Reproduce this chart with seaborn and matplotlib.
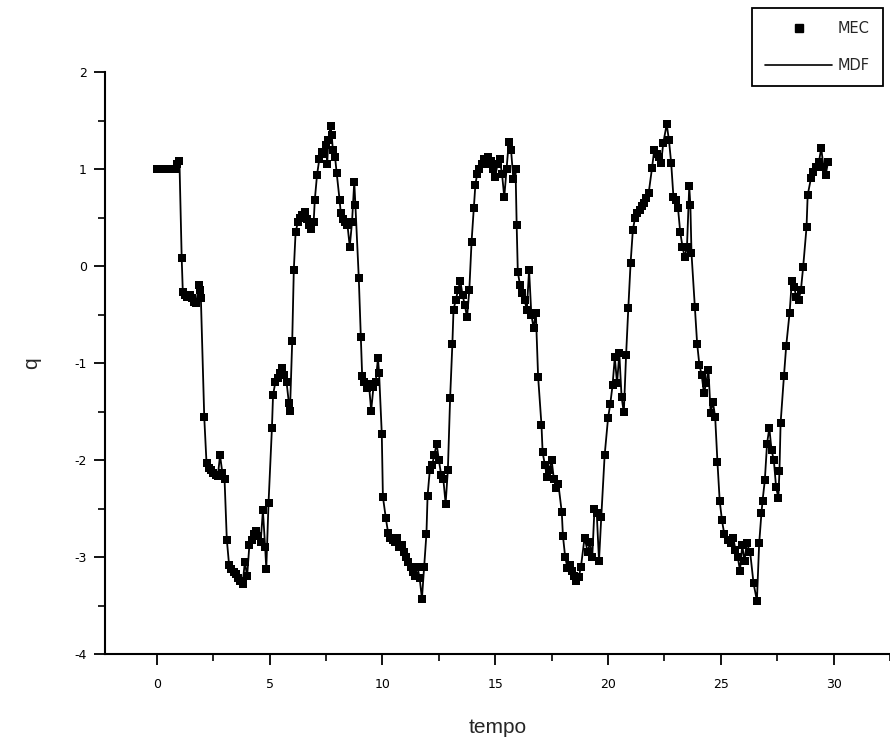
import matplotlib
matplotlib.use("Agg")
import matplotlib.pyplot as plt
from matplotlib.lines import Line2D
from matplotlib.ticker import MultipleLocator
import seaborn as sns
import pandas as pd

tempo = [0.0, 0.1, 0.2, 0.3, 0.4, 0.5, 0.6, 0.7, 0.8, 0.9, 1.0,
         1.1, 1.15, 1.25, 1.35, 1.45, 1.55, 1.65, 1.75, 1.85, 1.9, 1.95,
         2.1, 2.2, 2.3, 2.4, 2.5, 2.6, 2.7, 2.8, 2.9, 3.0,
         3.1, 3.2, 3.3, 3.4, 3.5, 3.6, 3.7, 3.8, 3.9, 4.0,
         4.1, 4.2, 4.3, 4.4, 4.5, 4.6, 4.7, 4.8, 4.85, 4.95,
         5.1, 5.15, 5.25, 5.35, 5.45, 5.55, 5.65, 5.75, 5.85, 5.9, 6.0, 6.07,
         6.15, 6.25, 6.35, 6.45, 6.55, 6.65, 6.75, 6.85, 6.95, 7.0, 7.1,
         7.2, 7.3, 7.4, 7.5, 7.55, 7.6, 7.7, 7.75, 7.8, 7.9, 7.97, 8.1,
         8.15, 8.25, 8.35, 8.45, 8.55, 8.65, 8.75, 8.8, 8.95, 9.04,
         9.1, 9.2, 9.3, 9.4, 9.5, 9.6, 9.7, 9.8, 9.85, 9.97, 10.02, 10.15,
         10.25, 10.35, 10.45, 10.55, 10.65, 10.75, 10.85, 10.95, 11.05, 11.15,
         11.25, 11.35, 11.45, 11.55, 11.65, 11.75, 11.85, 11.95, 12.0,
         12.1, 12.2, 12.3, 12.4, 12.5, 12.6, 12.7, 12.8, 12.9, 13.0, 13.1,
         13.15, 13.25, 13.35, 13.45, 13.55, 13.65, 13.75, 13.85, 13.95, 14.05, 14.12,
         14.2, 14.3, 14.4, 14.5, 14.6, 14.7, 14.8, 14.9, 15.0, 15.1, 15.2, 15.3,
         15.4, 15.5, 15.6, 15.7, 15.8, 15.9, 15.95, 16.0,
         16.1, 16.2, 16.3, 16.4, 16.5, 16.6, 16.7, 16.8, 16.9, 17.05,
         17.1, 17.2, 17.3, 17.4, 17.5, 17.6, 17.7, 17.8, 17.95, 18.0,
         18.1, 18.2, 18.3, 18.4, 18.5, 18.6, 18.7, 18.8, 18.96, 19.1, 19.2,
         19.3, 19.4, 19.5, 19.6, 19.7, 19.85, 20.0,
         20.1, 20.2, 20.3, 20.4, 20.5, 20.6, 20.7, 20.8, 20.9, 21.0, 21.1,
         21.2, 21.3, 21.4, 21.5, 21.6, 21.7, 21.8, 21.95, 22.05, 22.15, 22.25,
         22.35, 22.45, 22.6, 22.7, 22.8, 22.9, 23.0, 23.1, 23.2, 23.3, 23.4,
         23.5, 23.6, 23.65, 23.7, 23.85, 23.95, 24.05, 24.15, 24.25, 24.35,
         24.45, 24.55, 24.65, 24.75, 24.85, 24.95, 25.05, 25.15, 25.3, 25.45,
         25.55, 25.65, 25.75, 25.85, 25.95, 26.05, 26.15, 26.3, 26.45, 26.6,
         26.7, 26.8, 26.85, 26.95, 27.05, 27.15, 27.25, 27.35, 27.45, 27.55,
         27.6, 27.65, 27.8, 27.9, 28.05, 28.15, 28.25, 28.35, 28.45, 28.55,
         28.65, 28.8, 28.85, 29.0, 29.1, 29.2, 29.35, 29.45, 29.55, 29.65, 29.75]

q_mec = [1.0, 1.0, 1.0, 1.0, 1.0, 1.0, 1.0, 1.0, 1.0, 1.05, 1.08,
         0.08, -0.27, -0.3, -0.32, -0.3, -0.33, -0.37, -0.38, -0.2, -0.25, -0.33,
         -1.56, -2.03, -2.08, -2.1, -2.13, -2.15, -2.17, -1.95, -2.13, -2.2,
         -2.82, -3.08, -3.12, -3.15, -3.18, -3.22, -3.25, -3.28, -3.05, -3.2,
         -2.88, -2.82, -2.76, -2.73, -2.78, -2.85, -2.52, -2.9, -3.12, -2.44,
         -1.67, -1.33, -1.2, -1.15, -1.1, -1.05, -1.12, -1.2, -1.41, -1.49, -0.77, -0.04,
         0.35, 0.45, 0.5, 0.53, 0.56, 0.48, 0.42, 0.38, 0.45, 0.68, 0.94,
         1.1, 1.18, 1.15, 1.25, 1.05, 1.3, 1.44, 1.35, 1.2, 1.12, 0.96, 0.68,
         0.55, 0.48, 0.45, 0.42, 0.2, 0.45, 0.87, 0.63, -0.12, -0.73,
         -1.13, -1.2, -1.26, -1.22, -1.49, -1.25, -1.2, -0.95, -1.1, -1.73, -2.38, -2.6,
         -2.75, -2.8, -2.82, -2.85, -2.8, -2.9, -2.88, -2.95, -3.0, -3.05,
         -3.1, -3.15, -3.2, -3.1, -3.22, -3.43, -3.1, -2.76, -2.37,
         -2.1, -2.05, -1.95, -1.83, -2.0, -2.15, -2.2, -2.45, -2.1, -1.36, -0.8,
         -0.45, -0.35, -0.25, -0.15, -0.3, -0.4, -0.53, -0.25, 0.25, 0.6, 0.84,
         0.95, 1.0, 1.05, 1.1, 1.05, 1.12, 1.08, 1.0, 0.92, 1.05, 1.1, 0.95,
         0.71, 1.0, 1.28, 1.2, 0.9, 1.0, 0.42, -0.06,
         -0.2, -0.28, -0.35, -0.45, -0.04, -0.5, -0.64, -0.48, -1.14, -1.64,
         -1.92, -2.05, -2.18, -2.1, -2.0, -2.2, -2.29, -2.25, -2.54, -2.78,
         -3.0, -3.11, -3.08, -3.14, -3.2, -3.25, -3.21, -3.1, -2.8, -2.95, -2.85,
         -3.0, -2.5, -2.55, -3.04, -2.59, -1.95, -1.57,
         -1.42, -1.23, -0.94, -1.21, -0.9, -1.35, -1.51, -0.92, -0.43, 0.03, 0.37,
         0.5, 0.55, 0.58, 0.62, 0.65, 0.7, 0.75, 1.01, 1.2, 1.15, 1.12,
         1.06, 1.27, 1.46, 1.3, 1.06, 0.71, 0.68, 0.6, 0.35, 0.2, 0.09,
         0.2, 0.82, 0.63, 0.13, -0.42, -0.8, -1.02, -1.12, -1.31, -1.21,
         -1.07, -1.52, -1.4, -1.56, -2.02, -2.42, -2.62, -2.76, -2.82, -2.86,
         -2.8, -2.93, -3.0, -3.14, -2.88, -3.04, -2.86, -2.95, -3.27, -3.45,
         -2.86, -2.55, -2.42, -2.21, -1.83, -1.67, -1.9, -2.0, -2.28, -2.39,
         -2.11, -1.62, -1.13, -0.82, -0.48, -0.15, -0.22, -0.32, -0.35, -0.25,
         -0.01, 0.4, 0.73, 0.91, 0.97, 1.02, 1.07, 1.22, 1.02, 0.94, 1.07]

q_mdf = q_mec

x_ticks = [0, 5, 10, 15, 20, 25, 30]
y_ticks = [-4, -3, -2, -1, 0, 1, 2]

sns.set_theme(style="white")
plt.rcParams["font.family"] = ["DejaVu Sans"]
plt.rcParams["axes.unicode_minus"] = False

df = pd.DataFrame({"tempo": tempo, "MEC": q_mec, "MDF": q_mdf})

fig = plt.figure(figsize=(8.9, 7.45), dpi=100)
ax = fig.add_axes([105 / 890, 1 - 654 / 745, 785 / 890, (654 - 72) / 745])

sns.lineplot(data=df, x="tempo", y="MDF", color="black", linewidth=1.3,
             sort=False, estimator=None, ax=ax, zorder=2)
sns.scatterplot(data=df, x="tempo", y="MEC", color="black", marker="s",
                s=38, linewidth=0, ax=ax, zorder=3)

ax.set_xlim(-2.3, 32.5)
ax.set_ylim(-4, 2)
ax.set_xticks(x_ticks)
ax.set_yticks(y_ticks)
ax.xaxis.set_minor_locator(MultipleLocator(2.5))
ax.yaxis.set_minor_locator(MultipleLocator(0.5))
ax.tick_params(axis="both", which="major", direction="out", length=8,
               width=1.3, color="black", labelsize=9, labelcolor="black")
ax.tick_params(axis="both", which="minor", direction="out", length=5,
               width=1.2, color="black")
ax.tick_params(axis="x", which="major", pad=9)
ax.tick_params(axis="y", which="major", pad=5)
ax.xaxis.set_ticks_position("bottom")
ax.yaxis.set_ticks_position("left")

for side in ["top", "right"]:
    ax.spines[side].set_visible(False)
for side in ["left", "bottom"]:
    ax.spines[side].set_color("black")
    ax.spines[side].set_linewidth(1.5)
ax.grid(False)

ax.set_xlabel("tempo", fontsize=15, family="Liberation Sans", labelpad=20)
ax.set_ylabel("q", fontsize=15, family="Liberation Sans", labelpad=24)

handles = [Line2D([], [], color="black", marker="s", linestyle="none", markersize=6),
           Line2D([], [], color="black", linewidth=1.2)]
leg = fig.legend(handles, ["MEC", "MDF"], loc="upper left",
                 bbox_to_anchor=(752 / 890, 1 - 8 / 745), frameon=True,
                 fancybox=False, edgecolor="black", framealpha=1,
                 handlelength=4.6, handletextpad=0.4, borderpad=0.9,
                 labelspacing=1.5, fontsize=10.5, borderaxespad=0)
leg.get_frame().set_linewidth(1.3)

fig.savefig("out.png", dpi=100)
